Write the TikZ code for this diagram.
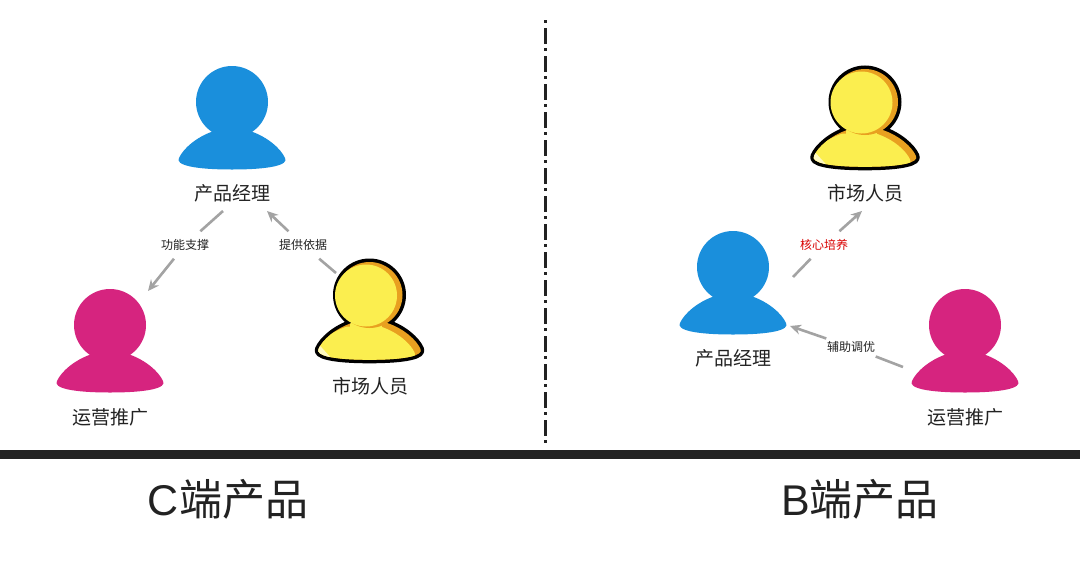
\documentclass[tikz,border=0pt]{standalone}
\usepackage{fontspec}
\setmainfont{Noto Sans CJK SC}
\newfontfamily\latinhead{Liberation Sans}
\usetikzlibrary{arrows.meta}
\definecolor{pblue}{HTML}{1A8FDC}
\definecolor{pmag}{HTML}{D6247F}
\definecolor{pyel}{HTML}{FBEE4F}
\definecolor{porg}{HTML}{E8A020}
\definecolor{pbar}{HTML}{222222}
\definecolor{pline}{HTML}{A3A3A3}
\definecolor{ptext}{HTML}{222222}
\newcommand{\bodypath}{(-53,56) .. controls (-49,47) and (-36,35) .. (-18,29) -- (18,29) .. controls (36,35) and (49,47) .. (53,56) .. controls (57,63) and (38,67.5) .. (0,67.5) .. controls (-38,67.5) and (-57,63) .. (-53,56) -- cycle}
\tikzset{
  x=1pt,y=-1pt,
  flatperson/.pic={
    \fill[#1] (0,0) circle[radius=36pt];
    \fill[#1] \bodypath;
  },
  yellowperson/.pic={
    \draw[black,line width=7pt] (0,0) circle[radius=33pt];
    \begin{scope}[scale=0.96]
      \draw[black,line width=7pt,line join=round] \bodypath;
      \fill[porg] \bodypath;
      \begin{scope}
        \clip \bodypath;
        \fill[pyel,shift={(-6,4)}] \bodypath;
        \fill[pyel] (-20,25) rectangle (13,40);
        \fill[pyel!35!white] (-56,48) -- (-36,70) -- (-60,70) -- cycle;
      \end{scope}
    \end{scope}
    \fill[porg] (0,0) circle[radius=33pt];
    \fill[pyel] (-3.5,0.5) circle[radius=31pt];
  },
  who/.style={font=\fontsize{19}{21}\selectfont,text=ptext,inner sep=0pt},
  edgelabel/.style={font=\fontsize{12}{14}\selectfont,text=ptext,inner xsep=0.5pt,inner ysep=8pt},
  headline/.style={font=\fontsize{43}{48}\selectfont,text=ptext,inner sep=0pt},
  link/.style={draw=pline,line width=2.6pt},
  linkhead/.style={link,-{Stealth[length=11pt,width=10pt]}}
}
\begin{document}
\begin{tikzpicture}[x=1pt,y=-1pt]
\useasboundingbox (0,0) rectangle (1080,563);
\fill[white] (0,0) rectangle (1080,563);

% divider and base bar
\coordinate (divtop) at (545.5,20);
\coordinate (divbot) at (545.5,443);
\draw[pbar,line width=2.4pt,dash pattern=on 3pt off 5pt on 16pt off 4pt] (divtop) -- (divbot);
\fill[pbar] (0,450) rectangle (1080,459);

% people, left
\pic at (232,102) {flatperson=pblue};
\pic at (110,325) {flatperson=pmag};
\pic at (369.5,295) {yellowperson};
% people, right
\pic at (733,267) {flatperson=pblue};
\pic at (865,102) {yellowperson};
\pic at (965,325) {flatperson=pmag};

% names
\node[who] (cpm) at (232,193) {产品经理};
\node[who] (cop) at (110,417) {运营推广};
\node[who] (cmk) at (370,386) {市场人员};
\node[who] (bmk) at (865,193) {市场人员};
\node[who] (bpm) at (733,358) {产品经理};
\node[who] (bop) at (965,417) {运营推广};

% titles
\node[headline] (ctitle) at (228,499) {{\latinhead C}端产品};
\node[headline] (btitle) at (860,499) {{\latinhead B}端产品};

% connector labels
\node[edgelabel] (l1) at (185,245) {功能支撑};
\node[edgelabel] (l2) at (303,245) {提供依据};
\node[edgelabel,text=red!85!black] (l3) at (824,245) {核心培养};
\node[edgelabel] (l4) at (851,347) {辅助调优};

% connector ends
\coordinate (a1) at (223,211);
\coordinate (b1) at (148,291);
\coordinate (a2) at (336,273);
\coordinate (b2) at (267,211);
\coordinate (a3) at (793,277);
\coordinate (b3) at (862,211);
\coordinate (a4) at (903,367);
\coordinate (b4) at (790,326);

\draw[link] (a1) -- (l1);
\draw[linkhead] (l1) -- (b1);
\draw[link] (a2) -- (l2);
\draw[linkhead] (l2) -- (b2);
\draw[link] (a3) -- (l3);
\draw[linkhead] (l3) -- (b3);
\draw[link] (a4) -- (l4);
\draw[linkhead] (l4) -- (b4);
\end{tikzpicture}
\end{document}
